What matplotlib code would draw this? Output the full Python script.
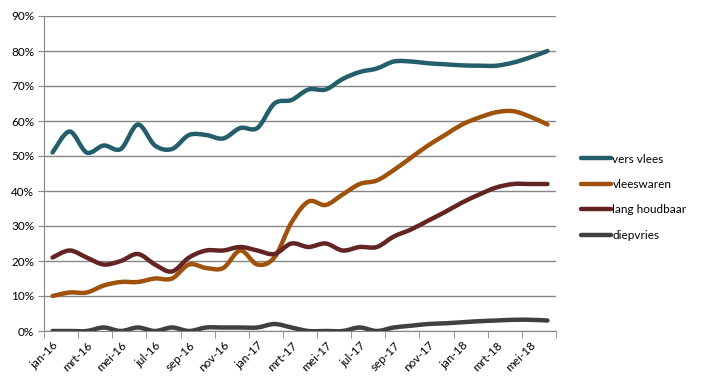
import numpy as np
import matplotlib
matplotlib.use("Agg")
import matplotlib.pyplot as plt
from matplotlib.path import Path
from matplotlib.patches import PathPatch
from matplotlib.lines import Line2D

plt.rcParams["font.family"] = ["Lato", "DejaVu Sans"]

month_names = ["jan", "feb", "mrt", "apr", "mei", "jun",
               "jul", "aug", "sep", "okt", "nov", "dec"]
months = [f"{month_names[i % 12]}-{16 + i // 12}" for i in range(30)]

vers_vlees = [51, 57, 51, 53, 52, 59, 53, 52, 56, 56, 55, 58, 58, 65, 66,
              69, 69, 72, 74, 75, 77, 77, 76.5, 76.2, 75.9, 75.8, 75.8, 76.7, 78.2, 80]
vleeswaren = [10, 11, 11, 13, 14, 14, 15, 15, 19, 18, 18, 23, 19, 21, 31,
              37, 36, 39, 42, 43, 46, 49.5, 53, 56, 59, 61, 62.5, 62.8, 61.2, 59]
lang_houdbaar = [21, 23, 21, 19, 20, 22, 19, 17, 21, 23, 23, 24, 23, 22, 25,
                 24, 25, 23, 24, 24, 27, 29, 31.5, 34, 36.7, 39, 41, 42, 42, 42]
diepvries = [0, 0, 0, 1, 0, 1, 0, 1, 0, 1, 1, 1, 1, 2, 1,
             0, 0, 0, 1, 0, 1, 1.5, 2, 2.2, 2.5, 2.8, 3, 3.2, 3.2, 3]

series = [
    ("vers vlees", vers_vlees, "#255E6B"),
    ("vleeswaren", vleeswaren, "#9E520C"),
    ("lang houdbaar", lang_houdbaar, "#632524"),
    ("diepvries", diepvries, "#404040"),
]


def smooth_path(x, y):
    # excel-style smoothed line: cubic bezier segments (catmull-rom control points)
    pts = np.column_stack([x, y]).astype(float)
    verts = [pts[0]]
    codes = [Path.MOVETO]
    n = len(pts)
    for i in range(n - 1):
        p0 = pts[max(i - 1, 0)]
        p1 = pts[i]
        p2 = pts[i + 1]
        p3 = pts[min(i + 2, n - 1)]
        c1 = p1 + (p2 - p0) / 6
        c2 = p2 - (p3 - p1) / 6
        verts += [c1, c2, p2]
        codes += [Path.CURVE4] * 3
    return Path(verts, codes)


fig = plt.figure(figsize=(7.06, 3.90), dpi=100)
ax = fig.add_axes([44 / 706, 1 - 331 / 390, 512 / 706, 315 / 390])

x = np.arange(len(months))
handles = []
for name, vals, color in series:
    patch = PathPatch(smooth_path(x, vals), fill=False, edgecolor=color,
                      lw=3.2, capstyle="round", joinstyle="round", zorder=3)
    ax.add_patch(patch)
    handles.append(Line2D([], [], color=color, lw=3.2, solid_capstyle="round",
                          label=name))

ax.set_xlim(-0.5, len(months) - 0.5)
ax.set_ylim(0, 90)

ax.set_yticks(range(0, 91, 10))
ax.set_yticklabels([f"{v}%" for v in range(0, 91, 10)])
ax.yaxis.grid(True, color="#868686", lw=1)
ax.set_axisbelow(True)

ax.set_xticks(x[::2])
ax.set_xticklabels(months[::2], rotation=45, ha="right", rotation_mode="anchor")
ax.set_xticks(np.arange(-0.5, len(months), 2), minor=True)
ax.tick_params(axis="x", which="major", length=0, pad=6)
ax.tick_params(axis="x", which="minor", length=5, color="#868686", direction="out")
ax.tick_params(axis="y", length=4, color="#868686", pad=3)
ax.tick_params(labelsize=8.5, labelcolor="black")

for side in ["top", "right"]:
    ax.spines[side].set_visible(False)
ax.spines["left"].set_color("#868686")
ax.spines["bottom"].set_color("#868686")

fig.legend(handles=handles, loc="upper left", bbox_to_anchor=(570 / 706, 1 - 143 / 390),
           frameon=False, fontsize=8.5, handlelength=2.6, handletextpad=0.1,
           labelspacing=1.22)

fig.savefig("out.png", dpi=100)
